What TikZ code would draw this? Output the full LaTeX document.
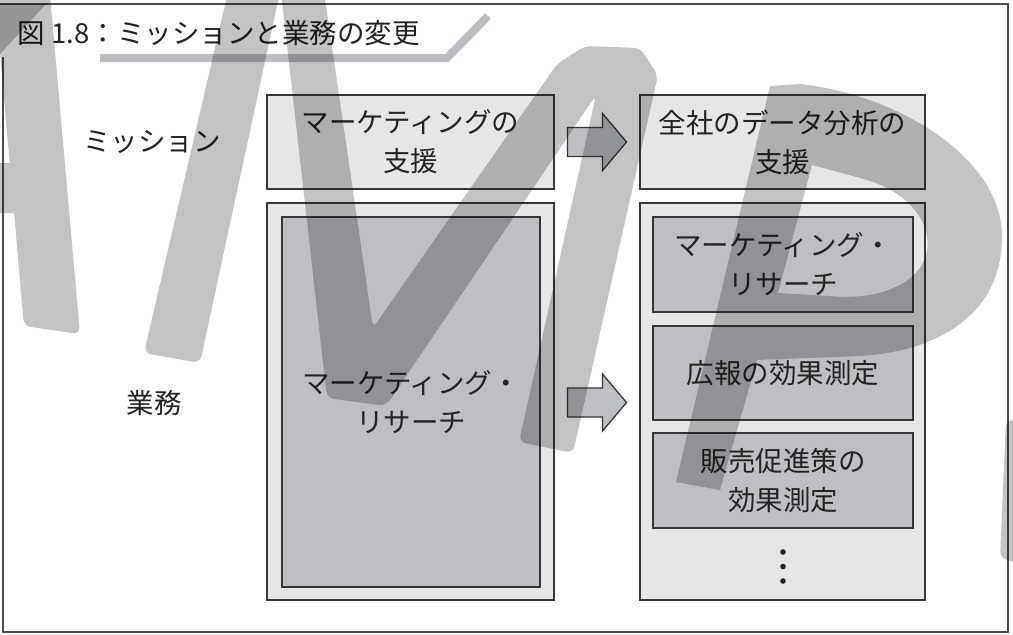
\documentclass[tikz,border=0pt]{standalone}
\usepackage{fontspec}
\setmainfont{Noto Sans CJK JP}
\usetikzlibrary{calc}
\definecolor{boxlight}{RGB}{230,230,230}
\definecolor{boxdark}{RGB}{190,191,195}
\definecolor{linec}{RGB}{55,55,55}
\definecolor{framec}{RGB}{75,75,75}
\definecolor{textc}{RGB}{35,35,35}
\definecolor{ulc}{RGB}{188,189,193}
\begin{document}
\begin{tikzpicture}[x=1pt,y=-1pt,
  outerbox/.style={draw=linec,line width=1.6pt,fill=boxlight,inner sep=0pt},
  innerbox/.style={draw=linec,line width=1.6pt,fill=boxdark,inner sep=0pt,
    text=textc,font=\fontsize{27.5}{39}\selectfont,align=center},
  lighttxt/.style={text=textc,font=\fontsize{27.5}{39}\selectfont,align=center},
  lbl/.style={text=textc,font=\fontsize{27.5}{39}\selectfont,inner sep=0pt},
  blockarrow/.style={draw=linec,line width=1.3pt,fill=boxdark,line join=miter},
  dotnode/.style={circle,fill=textc,inner sep=0pt,minimum size=5.6pt},
  wm/.style={fill=black,fill opacity=0.235,rounded corners=7pt},
]
\useasboundingbox (0,0) rectangle (1013,635);
\fill[white] (0,0) rectangle (1013,635);

% frame
\draw[framec,line width=1.8pt] (3,57) -- (3,632) -- (1008,632) -- (1008,4) -- (-2,4);

% title
\node[anchor=west,text=textc,inner sep=0pt,font=\fontsize{27.5}{30}\selectfont] (title) at (17,33) {図\hspace{7pt}1.8：ミッションと業務の変更};
\draw[ulc,line width=8pt,line join=miter] (100,58) -- (447,58) -- (488,16);

% row labels
\node[lbl] (lmission) at (152,142) {ミッション};
\node[lbl] (lwork) at (154,403) {業務};

% mission boxes
\node[outerbox,lighttxt,minimum width=287pt,minimum height=94pt] (m1) at (410.5,142) {マーケティングの\\支援};
\node[outerbox,lighttxt,minimum width=285pt,minimum height=94pt] (m2) at (782.5,142) {全社のデータ分析の\\支援};

% work boxes
\node[outerbox,minimum width=287pt,minimum height=397pt] (t1) at (410.5,401.5) {};
\node[innerbox,minimum width=258pt,minimum height=370pt] (t1i) at (411,402) {マーケティング・\\リサーチ};
\node[outerbox,minimum width=285pt,minimum height=397pt] (t2) at (782.5,401.5) {};
\node[innerbox,minimum width=260pt,minimum height=95pt] (r1) at (783,264.5) {マーケティング・\\リサーチ};
\node[innerbox,minimum width=260pt,minimum height=94pt] (r2) at (783,373) {広報の効果測定};
\node[innerbox,minimum width=260pt,minimum height=95pt] (r3) at (783,480.5) {販売促進策の\\効果測定};
\node[dotnode] (d1) at (783,552) {};
\node[dotnode] (d2) at (783,566.5) {};
\node[dotnode] (d3) at (783,581) {};

% block arrows
\coordinate (a1) at ($(m1.east)!0.5!(m2.west)$);
\coordinate (a2) at ($(t1.east)!0.5!(t2.west)+(0,1)$);
\foreach \c in {a1,a2}{
  \filldraw[blockarrow] ($(\c)+(-29.5,-14.5)$) -- ++(35,0) -- ++(0,-14) -- ++(24,28.5)
     -- ++(-24,28.5) -- ++(0,-14) -- ++(-35,0) -- cycle;
}

% watermark
\fill[wm]
  (-5,-5) -- (50,-5) -- (80,334) -- (24,326) -- cycle
  (-8,163) -- (16,163) -- (20,213) -- (-8,213) -- cycle
  (228,-8) -- (280,-8) -- (200,363) -- (144,353) -- cycle
  (281,-8) -- (324,-8) -- (373,328) -- (557,64) -- (585,46) -- (640,48) -- (658,75)
     -- (573,453) -- (519,442) -- (596,95) -- (386,406) -- (327,398) -- cycle
  (1006,420) -- (1040,420) -- (1040,570) -- (1000,558) -- cycle;
\fill[fill=black,fill opacity=0.235,even odd rule]
  (676,482) -- (770,86) -- (800,84) .. controls (900,95) and (1005,160) .. (1002,240)
    .. controls (1000,320) and (930,352) .. (860,356) -- (757,360) -- (720,490) -- cycle
  (812,165) -- (860,178) .. controls (915,192) and (935,230) .. (925,258)
    .. controls (915,285) and (880,297) .. (845,297) -- (778,293) -- cycle;
\fill[fill=black,fill opacity=0.235] (0,4) -- (46,4) -- (0,54) -- cycle;
\end{tikzpicture}
\end{document}
